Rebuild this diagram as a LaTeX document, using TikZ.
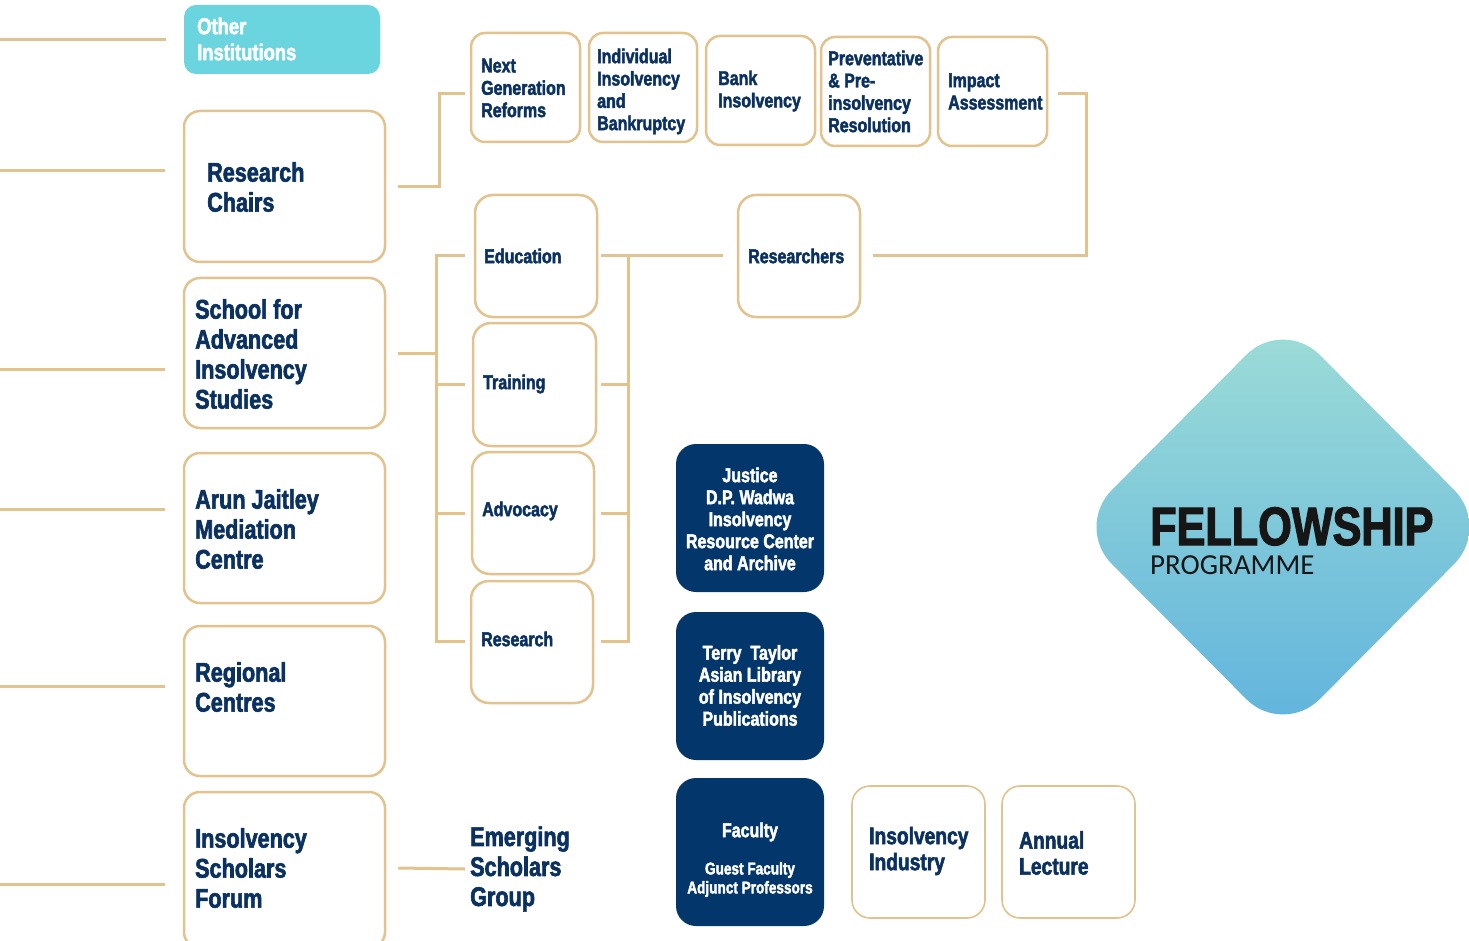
\documentclass[tikz,border=0pt]{standalone}
\usepackage{fontspec}
\setmainfont{Liberation Sans}
\newfontfamily\condf{Liberation Sans}[FakeStretch=0.8, FakeBold=2.2, UprightFont={* Bold}, BoldFont={* Bold}]
\newfontfamily\progf{Carlito}
\usetikzlibrary{calc}
\definecolor{navy}{HTML}{0B3160}
\definecolor{mytan}{HTML}{E2C28D}
\definecolor{tealbox}{HTML}{6AD5DE}
\definecolor{darkbox}{HTML}{03366A}
\definecolor{diatop}{HTML}{9EDDD7}
\definecolor{diabot}{HTML}{5FB3DD}
\definecolor{blacktxt}{HTML}{161616}
\tikzset{
  bigbox/.style={draw=mytan, line width=2.5pt, rounded corners=16pt, fill=white, inner sep=0pt},
  topbox/.style={draw=mytan, line width=2.5pt, rounded corners=14pt, fill=white, inner sep=0pt},
  colbox/.style={draw=mytan, line width=2.5pt, rounded corners=18pt, fill=white, inner sep=0pt},
  thinbox/.style={draw=mytan, line width=1.6pt, rounded corners=18pt, fill=white, inner sep=0pt},
  darkb/.style={fill=darkbox, rounded corners=20pt, inner sep=0pt},
  tealb/.style={fill=tealbox, rounded corners=12pt, inner sep=0pt},
  conn/.style={draw=mytan, line width=3pt},
  txtL/.style={font=\condf\fontsize{27}{30}\selectfont, text=navy, align=left, inner sep=0pt, anchor=west},
  txtM/.style={font=\condf\fontsize{20}{22.3}\selectfont, text=navy, align=left, inner sep=0pt, anchor=west},
  txtB/.style={font=\condf\fontsize{24}{26}\selectfont, text=navy, align=left, inner sep=0pt, anchor=west},
  txtOI/.style={font=\condf\fontsize{23}{26}\selectfont, text=white, align=left, inner sep=0pt, anchor=west},
  dtxt/.style={font=\condf\fontsize{20}{22}\selectfont, text=white, align=center, inner sep=0pt},
  dtxtS/.style={font=\condf\fontsize{17}{19}\selectfont, text=white, align=center, inner sep=0pt},
}
\begin{document}
\begin{tikzpicture}[x=1pt,y=-1pt]
\useasboundingbox (0,0) rectangle (1469,941);
\clip (0,0) rectangle (1469,941);

% diamond
\shade[top color=diatop, bottom color=diabot, rounded corners=52pt]
  (1283,318) -- (1491,527) -- (1283,736) -- (1075,527) -- cycle;
\node[font=\condf\fontsize{54}{58}\selectfont, text=blacktxt, inner sep=0pt, anchor=base west] (fel) at (1150,545) {FELLOWSHIP};
\node[font=\progf\fontsize{29}{32}\selectfont, text=blacktxt, inner sep=0pt, anchor=base west] (prog) at (1150,574) {PROGRAMME};

% left column boxes
\node[tealb, minimum width=196pt, minimum height=69pt] (oi) at (282,39.5) {};
\node[bigbox, minimum width=201pt, minimum height=151pt] (rc) at (284.5,186.5) {};
\node[bigbox, minimum width=201pt, minimum height=150pt] (sais) at (284.5,353) {};
\node[bigbox, minimum width=201pt, minimum height=150pt] (aj) at (284.5,528) {};
\node[bigbox, minimum width=201pt, minimum height=150pt] (reg) at (284.5,701) {};
\node[bigbox, minimum width=201pt, minimum height=156pt] (isf) at (284.5,870) {};

\node[txtOI] (oit) at (197,39) {Other\\Institutions};
\node[txtL] (rct) at (207,187) {Research\\Chairs};
\node[txtL] (saist) at (195,354) {School for\\Advanced\\Insolvency\\Studies};
\node[txtL] (ajt) at (195,529) {Arun Jaitley\\Mediation\\Centre};
\node[txtL] (regt) at (195,687) {Regional\\Centres};
\node[txtL] (isft) at (195,868) {Insolvency\\Scholars\\Forum};
\node[txtL] (esg) at (470,869) {Emerging\\Scholars\\Group};

% top row
\node[topbox, minimum width=109pt, minimum height=109pt] (ngr) at (525.5,87.5) {};
\node[topbox, minimum width=108pt, minimum height=109pt] (iib) at (643,87.5) {};
\node[topbox, minimum width=109pt, minimum height=109pt] (bi) at (760.5,90.5) {};
\node[topbox, minimum width=109pt, minimum height=109pt] (ppr) at (875.5,91.5) {};
\node[topbox, minimum width=109pt, minimum height=109pt] (ia) at (992.5,91.5) {};
\node[txtM] (ngrt) at (481,88) {Next\\Generation\\Reforms};
\node[txtM] (iibt) at (597,91.5) {Individual\\Insolvency\\and\\Bankruptcy};
\node[txtM] (bit) at (718,91) {Bank\\Insolvency};
\node[txtM] (pprt) at (828,91.5) {Preventative\\\& Pre-\\insolvency\\Resolution};
\node[txtM] (iat) at (948,91.5) {Impact\\Assessment};

% middle column
\node[colbox, minimum width=122pt, minimum height=122pt] (edu) at (536,256) {};
\node[colbox, minimum width=123pt, minimum height=123pt] (trn) at (534.5,384.5) {};
\node[colbox, minimum width=122pt, minimum height=122pt] (adv) at (533,513) {};
\node[colbox, minimum width=122pt, minimum height=122pt] (res) at (532,642) {};
\node[colbox, minimum width=122pt, minimum height=122pt] (rsr) at (799,256) {};
\node[txtM] (edut) at (484,256) {Education};
\node[txtM] (trnt) at (483,384) {Training};
\node[txtM] (advt) at (482,511) {Advocacy};
\node[txtM] (rest) at (481,639) {Research};
\node[txtM] (rsrt) at (748,256) {Researchers};

% dark boxes
\node[darkb, minimum width=148pt, minimum height=148pt] (jdp) at (750,518) {};
\node[darkb, minimum width=148pt, minimum height=148pt] (tt) at (750,686) {};
\node[darkb, minimum width=148pt, minimum height=148pt] (fac) at (750,852) {};
\node[dtxt] (jdpt) at (750,519) {Justice\\D.P. Wadwa\\Insolvency\\Resource Center\\and Archive};
\node[dtxt] (ttt) at (750,685.5) {Terry\ \ Taylor\\Asian Library\\of Insolvency\\Publications};
\node[dtxt] (fact) at (750,832) {Faculty};
\node[dtxtS] (gft) at (750,879.5) {Guest Faculty\\Adjunct Professors};

% bottom right boxes
\node[thinbox, minimum width=133pt, minimum height=132pt] (ii) at (918.5,852) {};
\node[thinbox, minimum width=133pt, minimum height=132pt] (al) at (1068.5,852) {};
\node[txtB] (iit) at (869,851) {Insolvency\\Industry};
\node[txtB] (alt) at (1019,853) {Annual\\Lecture};

% left edge lines
\coordinate (e1) at (0,40);
\coordinate (e2) at (0,171);
\coordinate (e3) at (0,369);
\coordinate (e4) at (0,509);
\coordinate (e5) at (0,686);
\coordinate (e6) at (0,884);
\draw[conn] (e1) -- ($(e1 -| oi.west)+(-18,0)$);
\draw[conn] (e2) -- ($(e2 -| rc.west)+(-18,0)$);
\draw[conn] (e3) -- ($(e3 -| sais.west)+(-18,0)$);
\draw[conn] (e4) -- ($(e4 -| aj.west)+(-18,0)$);
\draw[conn] (e5) -- ($(e5 -| reg.west)+(-18,0)$);
\draw[conn] (e6) -- ($(e6 -| isf.west)+(-18,0)$);

% research chairs to top row
\draw[conn] ($(rc.east)+(12,0)$) -- ++(41,0) |- ($(ngr.west)+(-5,6.5)$);
% impact assessment to researchers
\draw[conn] ($(ia.east)+(10,2.5)$) -| ($(rsr.east)+(225,0)$) -- ($(rsr.east)+(12,0)$);

% SAIS bracket
\coordinate (jl) at (438,353);
\draw[conn] ($(sais.east)+(12,0)$) -- (jl);
\draw[conn] ($(edu.west)+(-9,0)$) -| ($(res.west)+(-33,-1)$) -- ($(res.west)+(-5,-1)$);
\draw[conn] ($(trn.west)+(-7,0)$) -- ++(-28,0);
\draw[conn] ($(adv.west)+(-6,0)$) -- ++(-28,0);
\draw[conn] ($(edu.east)+(3,0)$) -- ($(rsr.west)+(-14,0)$);
\draw[conn] ($(res.east)+(7,-1)$) -- ++(27,0) -- ++(0,-385);
\draw[conn] ($(trn.east)+(4,0)$) -- ++(27,0);
\draw[conn] ($(adv.east)+(6,0)$) -- ++(27,0);

% ISF to emerging
\draw[conn] ($(isf.east)+(12,-2)$) -- ($(esg.west)+(-5,0)$);
\end{tikzpicture}
\end{document}
